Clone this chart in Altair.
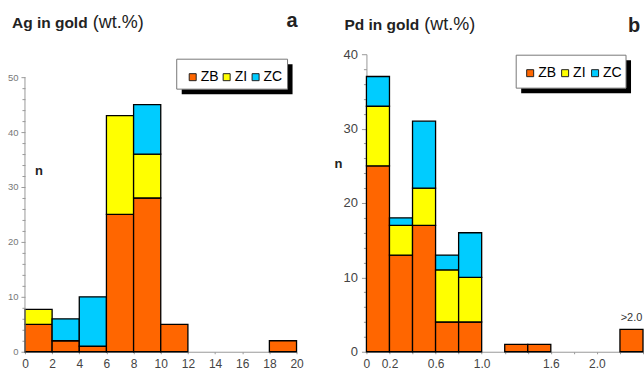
import altair as alt
import pandas as pd

FONT = "Liberation Sans"

ZONES = ["ZB", "ZI", "ZC"]
COLORS = ["#FF6600", "#FFFF00", "#00CCFF"]

# Ag histogram (bins in wt.%)
AG_BIN_START = [0, 2, 4, 6, 8, 10, 18]
AG_BIN_END = [2, 4, 6, 8, 10, 12, 20]
AG_ZB = [5, 2, 1, 25, 28, 5, 2]
AG_ZI = [2.7, 0, 0, 18, 8, 0, 0]
AG_ZC = [0, 4, 9, 0, 9, 0, 0]
AG_X_TICKS = [0, 2, 4, 6, 8, 10, 12, 14, 16, 18, 20]
AG_Y_TICKS = list(range(0, 51, 2))

# Pd histogram (bins in wt.%)
PD_BIN_START = [0, 0.2, 0.4, 0.6, 0.8, 1.2, 1.4, 2.2]
PD_BIN_END = [0.2, 0.4, 0.6, 0.8, 1.0, 1.4, 1.6, 2.4]
PD_ZB = [25, 13, 17, 4, 4, 1, 1, 3]
PD_ZI = [8, 4, 5, 7, 6, 0, 0, 0]
PD_ZC = [4, 1, 9, 2, 6, 0, 0, 0]
PD_X_TICKS = [0, 0.2, 0.4, 0.6, 0.8, 1.0, 1.2, 1.4, 1.6, 1.8, 2.0, 2.2, 2.4]
PD_X_LABEL_VALUES = [0, 0.2, 0.6, 1.0, 1.6, 2.0]
PD_X_LABEL_TEXT = ["0", "0.2", "0.6", "1.0", "1.6", "2.0"]
PD_Y_TICKS = list(range(0, 41, 2))
PD_OVER_LABEL = ">2.0"

TITLE_A = ["Ag in gold", "(wt.%)", "a"]
TITLE_B = ["Pd in gold", "(wt.%)", "b"]
Y_TITLE = "n"


def stack_df(starts, ends, series):
    rows = []
    for i, (s, e) in enumerate(zip(starts, ends)):
        base = 0
        for zone, vals in zip(ZONES, series):
            v = vals[i]
            if v > 0:
                rows.append(dict(x0=s, x1=e, y0=base, y1=base + v, zone=zone))
            base += v
    return pd.DataFrame(rows)


ag_df = stack_df(AG_BIN_START, AG_BIN_END, [AG_ZB, AG_ZI, AG_ZC])
pd_df = stack_df(PD_BIN_START, PD_BIN_END, [PD_ZB, PD_ZI, PD_ZC])

MAJOR = "datum.value % 10 === 0"
ONE = pd.DataFrame({"k": [0]})


def text_layer(txt, x, y, size, weight="normal", color="#222", align="left"):
    return alt.Chart(pd.DataFrame({"t": [txt]})).mark_text(
        align=align, baseline="alphabetic", font=FONT, fontSize=size,
        fontWeight=weight, color=color
    ).encode(x=alt.value(x), y=alt.value(y), text="t:N")


def anchor(x, x2, y, y2):
    # invisible frame that fixes the layout bounds of the page
    return alt.Chart(ONE).mark_rect(fillOpacity=0, strokeOpacity=0).encode(
        x=alt.value(x), x2=alt.value(x2), y=alt.value(y), y2=alt.value(y2))


def legend_frame(x, y, w, h, off=5):
    shadow = alt.Chart(ONE).mark_rect(fill="black").encode(
        x=alt.value(x + off), x2=alt.value(x + w + off),
        y=alt.value(y + off), y2=alt.value(y + h + off))
    box = alt.Chart(ONE).mark_rect(fill="white", stroke="#777", strokeWidth=1).encode(
        x=alt.value(x), x2=alt.value(x + w), y=alt.value(y), y2=alt.value(y + h))
    return shadow, box


def legend(x, y, fs, colpad):
    return alt.Legend(
        title=None, orient="none", legendX=x, legendY=y, direction="horizontal",
        symbolType="square", symbolSize=49, symbolStrokeColor="#222",
        symbolStrokeWidth=1, symbolOpacity=1, labelFontSize=fs, labelFont=FONT,
        labelColor="black", labelOffset=1, columnPadding=colpad, padding=0,
        gridAlign="none",
    )


# ---------------- Left panel (Ag) ----------------
AG_YMAX = 54.18
ag_bars = alt.Chart(ag_df).mark_bar(stroke="black", strokeWidth=1.3).encode(
    x=alt.X("x0:Q", scale=alt.Scale(domain=[0, 20], nice=False, zero=False),
            axis=alt.Axis(values=AG_X_TICKS, tickCount=len(AG_X_TICKS), title=None,
                          labelFontSize=12, labelColor="#444", domainColor="#999",
                          tickColor="#999", tickSize=2, labelPadding=5, grid=False,
                          labelFlush=False, labelOverlap=False, format="d")),
    x2="x1",
    y=alt.Y("y0:Q", scale=alt.Scale(domain=[0, AG_YMAX], nice=False),
            axis=alt.Axis(values=AG_Y_TICKS, tickCount=len(AG_Y_TICKS), title=None,
                          domain=False, labelExpr=f"{MAJOR} ? datum.label : ''",
                          tickSize={"condition": {"test": MAJOR, "value": 4}, "value": 3},
                          tickColor="#999", labelFontSize=9.5, labelColor="#777",
                          labelPadding=3, grid=False, labelOverlap=False, labelFlush=False)),
    y2="y1",
    color=alt.Color("zone:N", scale=alt.Scale(domain=ZONES, range=COLORS),
                    legend=legend(161, 16, 14, 1)),
)
ag_axis_rule = alt.Chart(pd.DataFrame({"y0": [0], "y1": [AG_Y_TICKS[-1]]})).mark_rule(
    color="#999").encode(x=alt.value(0), y="y0:Q", y2="y1:Q")
ag_shadow, ag_box = legend_frame(152, 5, 111, 30)

left = alt.layer(
    anchor(-25, 0, -54, 318),
    ag_bars, ag_axis_rule, ag_shadow, ag_box,
    text_layer(TITLE_A[0], -13, -26, 15.5, "bold"),
    text_layer(TITLE_A[1], 68, -26, 18, "normal"),
    text_layer(TITLE_A[2], 262, -27, 20, "bold"),
    text_layer(Y_TITLE, 10, 121, 13, "bold"),
).properties(width=272, height=298)

# ---------------- Right panel (Pd) ----------------
pd_label_expr = " : ".join(
    f"abs(datum.value - {v}) < 0.001 ? '{t}'" for v, t in zip(PD_X_LABEL_VALUES, PD_X_LABEL_TEXT)
) + " : ''"

pd_bars = alt.Chart(pd_df).mark_bar(stroke="black", strokeWidth=1.3).encode(
    x=alt.X("x0:Q", scale=alt.Scale(domain=[0, 2.4], nice=False, zero=False),
            axis=alt.Axis(values=PD_X_TICKS, tickCount=len(PD_X_TICKS), title=None,
                          labelExpr=pd_label_expr, labelFontSize=12, labelColor="#444",
                          domainColor="#999", tickColor="#999", tickSize=2,
                          labelPadding=5, grid=False, labelFlush=False,
                          labelOverlap=False)),
    x2="x1",
    y=alt.Y("y0:Q", scale=alt.Scale(domain=[0, 40], nice=False),
            axis=alt.Axis(values=PD_Y_TICKS, tickCount=len(PD_Y_TICKS), title=None,
                          labelExpr=f"{MAJOR} ? datum.label : ''",
                          tickSize={"condition": {"test": MAJOR, "value": 5}, "value": 3},
                          tickColor="#999", domainColor="#999", labelFontSize=13,
                          labelColor="#444", labelPadding=4, grid=False,
                          labelOverlap=False, labelFlush=False)),
    y2="y1",
    color=alt.Color("zone:N", scale=alt.Scale(domain=ZONES, range=COLORS),
                    legend=legend(157, 12, 14, 2)),
)
over_df = pd.DataFrame({
    "x0": [(PD_BIN_START[-1] + PD_BIN_END[-1]) / 2],
    "y0": [PD_ZB[-1]],
    "t": [PD_OVER_LABEL],
})
pd_over = alt.Chart(over_df).mark_text(
    baseline="alphabetic", dy=-8, font=FONT, fontSize=11, color="#333"
).encode(x="x0:Q", y="y0:Q", text="t:N")
pd_shadow, pd_box = legend_frame(150, 1, 110, 33)

right = alt.layer(
    anchor(0, 277, -54, 318),
    pd_bars, pd_over, pd_shadow, pd_box,
    text_layer(TITLE_B[0], -22, -24, 15.5, "bold"),
    text_layer(TITLE_B[1], 58, -24, 18, "normal"),
    text_layer(TITLE_B[2], 262, -22, 20, "bold"),
    text_layer(Y_TITLE, -32, 114, 13, "bold"),
).properties(width=277, height=298)

chart = alt.hconcat(left, right, spacing=70, bounds="flush").resolve_scale(
    color="independent").resolve_legend(color="independent").properties(
    padding=0,
).configure_view(stroke=None).configure_axis(labelFont=FONT, grid=False)

chart.save("out.html", embed_options={"renderer": "svg", "actions": False})
